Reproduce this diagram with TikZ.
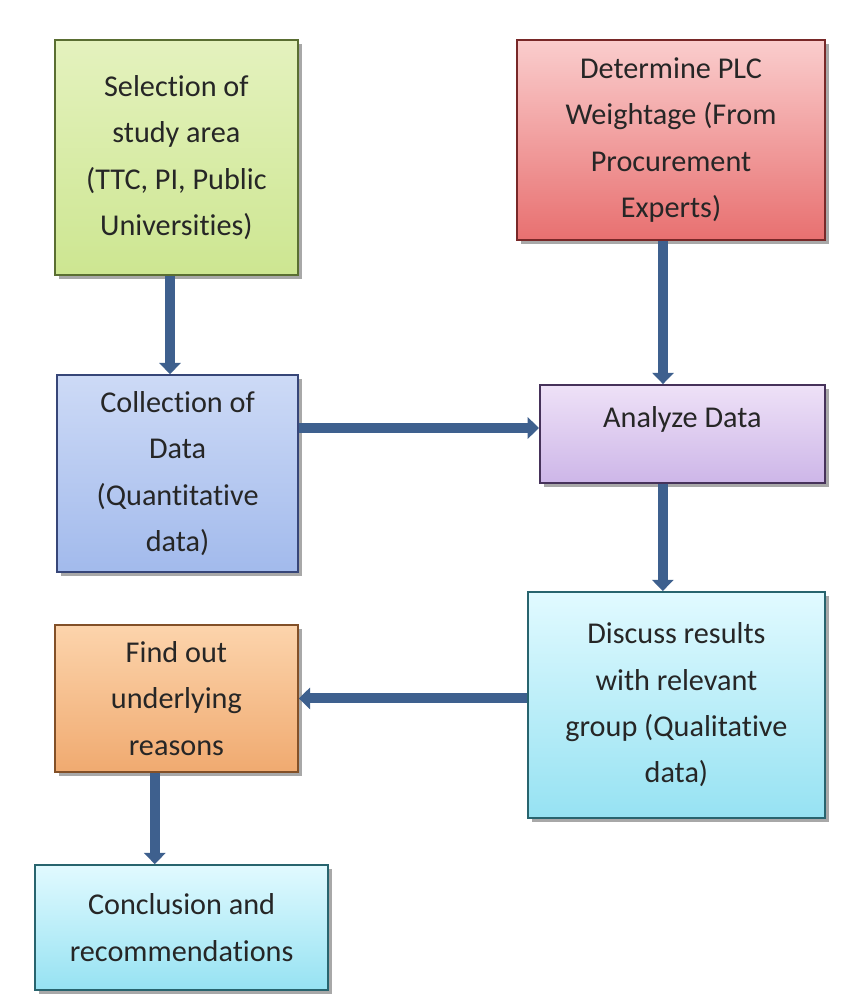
\documentclass[tikz,border=0pt]{standalone}
\usepackage{fontspec}
\setmainfont{Carlito}[Ligatures=NoCommon]
\usetikzlibrary{arrows.meta,shadows}

\definecolor{flowBlue}{RGB}{62,96,142}
\definecolor{greenTop}{RGB}{228,242,190}
\definecolor{greenBottom}{RGB}{205,230,145}
\definecolor{greenLine}{RGB}{90,110,50}
\definecolor{redTop}{RGB}{250,205,205}
\definecolor{redBottom}{RGB}{232,112,112}
\definecolor{redLine}{RGB}{120,40,40}
\definecolor{blueTop}{RGB}{205,218,246}
\definecolor{blueBottom}{RGB}{162,186,236}
\definecolor{blueLine}{RGB}{55,70,120}
\definecolor{purpleTop}{RGB}{238,225,247}
\definecolor{purpleBottom}{RGB}{205,182,232}
\definecolor{purpleLine}{RGB}{70,50,90}
\definecolor{cyanTop}{RGB}{225,250,255}
\definecolor{cyanBottom}{RGB}{150,226,242}
\definecolor{cyanLine}{RGB}{40,100,110}
\definecolor{orangeTop}{RGB}{252,212,172}
\definecolor{orangeBottom}{RGB}{240,170,112}
\definecolor{orangeLine}{RGB}{130,80,40}

\tikzset{
  stagebox/.style={rectangle, line width=1.3pt, align=center, inner xsep=0pt,
    font=\fontsize{21.5}{33}\selectfont, text=black!85,
    drop shadow={shadow xshift=3pt, shadow yshift=-3pt, opacity=0.45, fill=black!75}},
  flow/.style={draw=flowBlue, line width=7pt, -{Triangle[length=8pt,width=15pt]}},
}

\begin{document}
\begin{tikzpicture}

\fill[white] (0,0) rectangle (21.2,-25.025);
\useasboundingbox (0,0) rectangle (21.2,-25.025);

\node[stagebox, top color=greenTop, bottom color=greenBottom, draw=greenLine,
  minimum width=6.075cm, minimum height=5.875cm] (selectionArea) at (4.41,-3.94)
  {Selection of\\study area\\(TTC, PI, Public\\Universities)};

\node[stagebox, top color=redTop, bottom color=redBottom, draw=redLine,
  minimum width=7.7cm, minimum height=5cm] (determineWeightage) at (16.775,-3.5)
  {Determine PLC\\Weightage (From\\Procurement\\Experts)};

\node[stagebox, top color=blueTop, bottom color=blueBottom, draw=blueLine,
  minimum width=6.025cm, minimum height=4.925cm] (collectionData) at (4.44,-11.84)
  {Collection of\\Data\\(Quantitative\\data)};

\node[stagebox, top color=purpleTop, bottom color=purpleBottom, draw=purpleLine,
  minimum width=7.125cm, inner ysep=0.15cm, text height=0.9cm, text depth=1.25cm]
  (analyzeData) at (17.06,-10.85) {Analyze Data};

\node[stagebox, top color=cyanTop, bottom color=cyanBottom, draw=cyanLine,
  minimum width=7.425cm, minimum height=5.65cm] (discussResults) at (16.91,-17.625)
  {Discuss results\\with relevant\\group (Qualitative\\data)};

\node[stagebox, top color=orangeTop, bottom color=orangeBottom, draw=orangeLine,
  minimum width=6.075cm, minimum height=3.675cm] (findReasons) at (4.41,-17.46)
  {Find out\\underlying\\reasons};

\node[stagebox, top color=cyanTop, bottom color=cyanBottom, draw=cyanLine,
  minimum width=7.325cm, minimum height=3.125cm] (conclusionRec) at (4.54,-23.19)
  {Conclusion and\\recommendations};

\coordinate (analyzeIn) at ([yshift=0.15cm]analyzeData.west);

\draw[flow] ([xshift=-0.16cm]selectionArea.south) -- ([xshift=-0.16cm]selectionArea.south |- collectionData.north);
\draw[flow] ([xshift=-0.2cm]determineWeightage.south) -- ([xshift=-0.2cm]determineWeightage.south |- analyzeData.north);
\draw[flow] (collectionData.east |- analyzeIn) -- (analyzeIn);
\draw[flow] ([xshift=-0.49cm]analyzeData.south) -- ([xshift=-0.49cm]analyzeData.south |- discussResults.north);
\draw[flow] (discussResults.west |- findReasons.east) -- (findReasons.east);
\draw[flow] ([xshift=-0.54cm]findReasons.south) -- ([xshift=-0.54cm]findReasons.south |- conclusionRec.north);

\end{tikzpicture}
\end{document}
